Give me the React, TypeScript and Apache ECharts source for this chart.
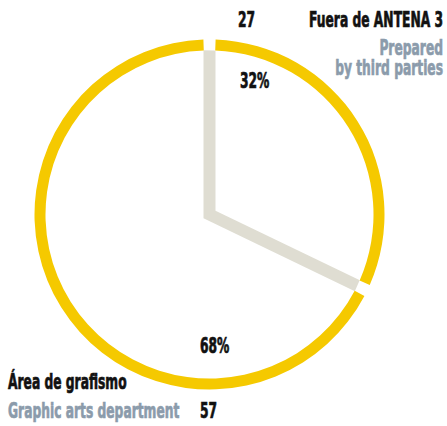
import React, { useEffect, useRef } from "react";
import * as echarts from "echarts";

const categories = ["Fuera de ANTENA 3", "Área de grafismo"];
const categoriesEn = [["Prepared", "by third parties"], ["Graphic arts department"]];
const values = [27, 57];

const YELLOW = "#f5c900";
const GREY_BAND = "#dfddd2";
const TEXT_DARK = "#111111";
const TEXT_GREY = "#8b9bab";
const FONT = 'bold 21px "DejaVu Sans Condensed", "DejaVu Sans", sans-serif';
const SX = 0.65;

export default function App() {
  const ref = useRef<HTMLDivElement>(null);
  useEffect(() => {
    document.body.style.margin = "0";
    if (!ref.current) return;
    const chart = echarts.init(ref.current, null, { renderer: "svg" });
    const total = values.reduce((a, b) => a + b, 0);
    const pct = values.map((v) => Math.round((v / total) * 100) + "%");

    const cx = 209.5;
    const cy = 214.5;
    const half = 6;
    const frac = values[0] / total;
    const theta = frac * 2 * Math.PI;
    const d = half / Math.sin(theta / 2);
    const bx = Math.sin(theta / 2);
    const by = -Math.cos(theta / 2);

    const txt = (text: string, x: number, y: number, fill: string, align: string) => ({
      type: "text",
      x,
      y,
      scaleX: SX,
      z: 100,
      silent: true,
      style: {
        text,
        fill,
        stroke: fill,
        lineWidth: 0.7,
        font: FONT,
        textAlign: align,
        textVerticalAlign: "middle",
      },
    });

    const hidden = { show: false };
    chart.setOption({
      animation: false,
      backgroundColor: "#ffffff",
      series: [
        {
          type: "pie",
          z: 1,
          silent: true,
          center: [cx - d * bx, cy - d * by],
          radius: [0, 168],
          startAngle: 90,
          clockwise: true,
          label: hidden,
          labelLine: hidden,
          emphasis: { disabled: true },
          data: values.map((v, i) => ({
            name: categories[i],
            value: v,
            itemStyle: { color: i === 0 ? GREY_BAND : "rgba(0,0,0,0)", borderWidth: 0 },
          })),
        },
        {
          type: "pie",
          z: 2,
          silent: true,
          center: [cx + d * bx, cy + d * by],
          radius: [0, 200],
          startAngle: 90,
          clockwise: true,
          label: hidden,
          labelLine: hidden,
          emphasis: { disabled: true },
          data: values.map((v, i) => ({
            name: categories[i],
            value: v,
            itemStyle: { color: i === 0 ? "#ffffff" : "rgba(0,0,0,0)", borderWidth: 0 },
          })),
        },
        {
          type: "pie",
          z: 3,
          silent: true,
          center: [cx, cy],
          radius: [164, 175],
          startAngle: 90,
          clockwise: true,
          padAngle: 4,
          label: hidden,
          labelLine: hidden,
          emphasis: { disabled: true },
          data: values.map((v, i) => ({
            name: categories[i],
            value: v,
            itemStyle: { color: YELLOW, borderWidth: 0 },
          })),
        },
      ],
      graphic: [
        txt(String(values[0]), 238, 20, TEXT_DARK, "left"),
        txt(categories[0], 443, 20, TEXT_DARK, "right"),
        txt(categoriesEn[0][0], 443, 48, TEXT_GREY, "right"),
        txt(categoriesEn[0][1], 443, 68, TEXT_GREY, "right"),
        txt(pct[0], 240, 81, TEXT_DARK, "left"),
        txt(pct[1], 200, 346, TEXT_DARK, "left"),
        txt(categories[1], 8, 382, TEXT_DARK, "left"),
        txt(categoriesEn[1][0], 8, 411, TEXT_GREY, "left"),
        txt(String(values[1]), 200, 411, TEXT_DARK, "left"),
      ],
    });
    return () => chart.dispose();
  }, []);
  return (
    <div
      ref={ref}
      style={{ position: "absolute", left: 0, top: 0, width: 447, height: 426 }}
    />
  );
}
